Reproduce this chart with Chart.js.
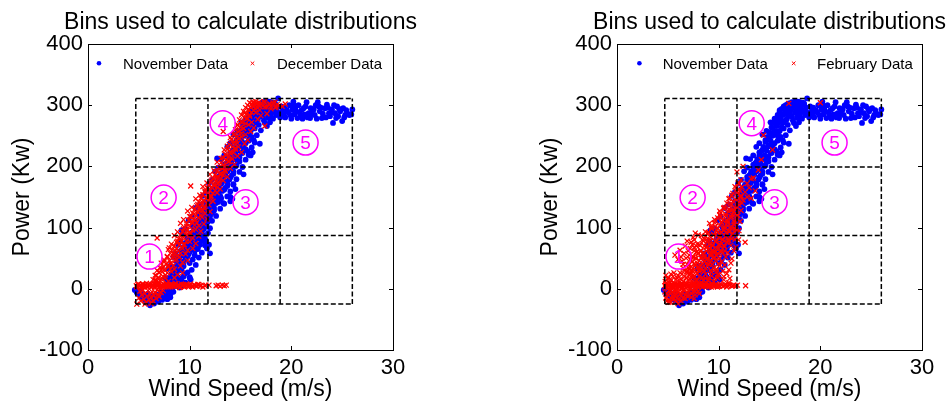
<!DOCTYPE html>
<html><head><meta charset="utf-8">
<script src="https://cdn.jsdelivr.net/npm/chart.js@4.4.1/dist/chart.umd.min.js"></script>
<style>
html,body{margin:0;padding:0;background:#fff;}
#wrap{position:relative;width:949px;height:403px;overflow:hidden;background:#fff;}
.c{position:absolute;top:0;height:403px;}
</style></head><body>
<div id="wrap">
<div class="c" style="left:0;width:474px"><canvas id="c1"></canvas></div>
<div class="c" style="left:474px;width:475px"><canvas id="c2"></canvas></div>
</div>
<script>
// ---- data ----
const chartTitle = 'Bins used to calculate distributions';
const xTitle = 'Wind Speed (m/s)';
const yTitle = 'Power (Kw)';
const xTicks = [0, 10, 20, 30];
const yTicks = [-100, 0, 100, 200, 300, 400];
const binX = [4.7, 11.8, 18.9, 26];
const binY = [-25, 87, 199, 311];
const binLabels = ['1', '2', '3', '4', '5'];
const binLabelX = [6.05, 7.44, 15.5, 13.25, 21.4];
const binLabelY = [52.6, 149, 141.6, 270.7, 239];

const novData = [
[4.6,-2],[4.8,-6],[4.9,-3],[5.0,-9],[5.1,-5],[5.2,-12],[5.3,-7],[5.4,-15],[5.5,-10],[5.6,-18],[5.7,-13],[5.8,-20],[5.9,-8],[6.0,-22],[6.1,-27],[6.2,-16],[6.3,-12],[6.4,-19],[6.5,-24],[6.6,-14],[6.7,-9],[6.8,-17],[6.9,-21],[7.0,-11],[7.1,-15],[7.2,-6],[7.3,-18],[7.4,-10],[7.5,-13],[7.6,-4],[7.7,-8],[7.8,-12],[7.9,-2],[8.0,-6],[8.1,-9],[8.2,-3],[8.3,1],[8.4,-5],[8.5,4],[8.6,5],[8.9,10],[9.2,14],[9.4,20],[9.0,2],[7.8,-17],[8.1,-14],
[7.8,2],[7.8,12],[7.9,8],[8.0,18],[8.0,0],[8.1,12],[8.2,24],[8.2,6],[8.3,16],[8.4,30],[8.4,10],[8.5,22],[8.6,36],[8.6,14],[8.7,28],[8.7,45],[8.8,20],[8.9,40],[8.9,52],[9.0,30],[9.1,46],[9.1,62],[9.2,36],[9.2,96],[9.3,55],[9.4,42],[9.4,68],[9.5,60],[9.6,48],[9.6,75],[9.7,64],[9.8,80],[9.8,54],[9.9,70],[10.0,88],[10.0,60],[10.0,18],[10.1,76],[10.2,92],[10.2,66],[10.3,82],[10.4,100],[10.4,70],[10.5,88],[10.5,55],[10.6,106],[10.6,76],[10.7,94],[10.8,112],[10.8,82],[10.8,65],[10.9,100],[11.0,118],[11.0,88],[11.0,72],[11.1,106],[11.2,124],[11.2,94],[11.2,78],[11.3,112],[11.4,130],[11.4,98],[11.4,85],[11.5,118],[11.5,82],[11.6,136],[11.6,104],[11.7,124],[11.7,66],[11.8,142],[11.8,110],[11.9,130],[11.9,72],[12.0,148],[12.0,58],[12.0,118],[12.1,136],[12.2,155],[12.2,124],[12.3,144],[12.4,162],[12.4,132],[12.5,150],[12.6,170],[12.6,140],[12.7,158],[12.7,213],[12.8,178],[12.8,146],[12.9,165],[13.0,185],[13.0,152],[13.1,172],[13.2,192],[13.2,160],[13.3,180],[13.3,140],[13.4,198],[13.5,186],[13.5,165],[13.6,205],[13.7,192],[13.7,172],[13.8,212],[13.9,198],[13.9,178],[14.0,218],[14.0,150],[14.1,205],[14.1,185],[14.2,225],[14.3,212],[14.3,170],[14.3,192],[14.4,232],[14.5,218],[14.5,200],[14.6,240],[14.7,226],[14.7,208],[14.8,248],[14.9,234],[14.9,215],[15.0,256],[15.1,242],[15.1,222],[15.2,264],[15.3,250],[15.3,230],[15.4,272],[15.5,258],[15.5,238],[15.6,278],[15.7,266],[15.7,225],[15.8,284],[15.8,250],[15.9,272],[16.0,290],[16.0,218],[16.0,258],[16.1,278],[16.2,294],[16.2,265],[16.3,243],[16.3,284],[16.4,298],[16.4,272],[16.5,288],[16.6,300],[16.6,276],[16.7,292],[16.8,283],[16.8,302],[16.9,237],[16.9,296],[17.0,288],
[8.0,7],[8.6,12],[9.1,4],[9.6,10],[10.1,15],[7.6,18],[8.3,23],[9.0,17],[9.5,24],[10.0,19],[7.9,33],[8.5,28],[9.2,32],[9.8,27],[10.2,31],[8.1,38],[8.8,43],[9.4,37],[10.0,42],[10.6,39],[8.4,52],[9.0,47],[9.7,53],[10.3,48],[10.9,51],[8.6,58],[9.3,63],[9.9,57],[10.5,62],[11.2,59],[8.9,72],[9.5,67],[10.2,73],[10.8,68],[11.5,71],[9.1,78],[9.8,83],[10.4,77],[11.0,82],[11.6,79],[9.3,92],[10.0,87],[10.7,93],[11.3,88],[11.8,91],[9.6,98],[10.3,103],[10.9,97],[11.5,102],[12.0,99],[9.9,112],[10.6,107],[11.2,113],[11.7,108],[12.2,111],[10.2,118],[10.9,123],[11.5,117],[12.0,122],[12.6,119],[10.6,132],[11.2,127],[11.8,133],[12.4,128],[13.0,131],[11.0,138],[11.6,143],[12.2,137],[12.8,142],[13.4,139],[14.0,143],[11.3,152],[11.9,147],[12.5,153],[13.1,148],[13.7,151],[14.2,147],[11.6,158],[12.2,163],[12.8,157],[13.4,162],[14.0,159],[14.5,163],[11.9,172],[12.5,167],[13.1,173],[13.7,168],[14.3,171],[12.2,178],[12.8,183],[13.4,177],[14.0,182],[14.6,179],[12.5,192],[13.1,187],[13.7,193],[14.3,188],[14.9,191],[15.3,187],[12.8,198],[13.4,203],[14.0,197],[14.6,202],[15.2,199],[13.1,212],[13.7,207],[14.3,213],[14.9,208],[15.5,211],[13.4,218],[14.0,223],[14.6,217],[15.2,222],[15.8,219],[16.2,223],[13.7,232],[14.3,227],[14.9,233],[15.5,228],[16.1,231],[14.0,238],[14.6,243],[15.2,237],[15.8,242],[16.4,239],[14.3,252],[14.9,247],[15.5,253],[16.1,248],[16.6,251],[14.7,258],[15.3,263],[15.9,257],[16.4,262],[17.0,259],[15.1,272],[15.7,267],[16.3,273],[16.8,268],[17.4,271],[15.5,278],[16.1,283],[16.7,277],[17.2,282],[17.8,279],[16.0,292],[16.6,287],[17.1,293],[17.7,288],[18.3,291],[16.6,298],[17.2,303],[17.8,297],[18.4,302],
[16.9,303],[17.0,300],[17.1,282],[17.2,295],[17.2,305],[17.3,275],[17.4,303],[17.5,288],[17.5,306],[17.6,296],[17.6,266],[17.7,280],[17.8,300],[17.8,306],[17.9,292],[17.9,272],[18.0,285],[18.0,305],[18.1,296],[18.2,278],[18.3,290],[18.3,304],[18.4,302],[18.5,284],[18.6,296],[18.7,288],[18.7,311],[18.9,280],[19.0,298],[19.1,290],[19.2,285],
[19.23,287],[19.56,292],[19.88,284],[20.2,301],[20.5,290],[20.9,282],[21.2,295],[21.5,305],[21.7,287],[21.85,279],[22.2,293],[22.3,284],[22.7,298],[22.8,290],[23.0,279],[23.3,295],[23.5,301],[23.7,287],[23.8,282],[24.0,293],[24.1,271],[24.3,287],[24.5,298],[24.6,282],[24.8,290],[25.0,274],[25.1,295],[25.3,284],[25.5,287],[25.7,284],[26.0,293],[25.9,285],
[19.0,285],[19.3,296],[19.4,280],[19.7,288],[19.8,300],[20.0,278],[20.1,293],[20.3,285],[20.4,296],[20.6,279],[20.7,300],[20.8,288],[21.0,292],[21.1,278],[21.3,285],[21.4,298],[21.6,280],[21.9,295],[22.0,286],[22.4,300],[22.5,278],[22.9,296],[23.1,286],[23.4,280],[23.6,296],[23.9,288],[24.2,300],[24.4,279],[24.7,294],[25.2,280],[25.4,292],[20.2,306],[22.6,305]
];

const decData = [
[4.75,5],[4.9,7],[5.0,4],[5.15,6],[5.3,3],[5.4,8],[5.55,5],[5.7,6],[5.8,4],[5.95,7],[6.1,5],[6.2,3],[6.35,6],[6.5,8],[6.6,4],[6.75,5],[6.9,7],[7.0,3],[7.15,6],[7.3,5],[7.4,8],[7.55,4],[7.7,6],[7.8,5],[7.95,3],[8.1,7],[8.2,5],[8.35,6],[8.5,4],[8.65,8],[8.8,5],[8.95,6],[9.1,3],[9.25,5],[9.4,7],[9.55,4],[9.7,6],[9.85,5],[10.0,5],[10.2,4],[10.4,6],[10.6,5],[10.8,7],[11.0,5],[11.5,5],[11.9,6],[12.6,5],[12.8,6],[13.0,4],[13.2,6],[13.4,5],[13.6,6],
[4.82,3],[4.97,8],[5.08,5],[5.22,2],[5.35,7],[5.48,4],[5.62,6],[5.75,9],[5.88,3],[6.02,5],[6.15,8],[6.28,4],[6.42,6],[6.55,2],[6.68,7],[6.82,5],[6.95,9],[7.08,4],[7.22,6],[7.35,3],[7.48,7],[7.62,5],[7.75,8],[7.88,4],[8.02,6],[8.15,3],[8.28,7],[8.42,5],[8.58,9],[8.72,4],[8.88,6],[9.02,2],[9.18,8],[9.32,5],[9.48,3],[9.62,7],[9.78,4],[9.92,6],[10.1,8],[10.3,3],[10.5,6],[10.7,4],[10.9,7],[11.1,5],[11.3,3],[11.6,6],
[4.8,-25],[5.0,-15],[5.1,-4],[5.2,-20],[5.3,-10],[5.4,-2],[5.5,-17],[5.6,-8],[5.7,-22],[5.8,-12],[5.9,-3],[6.0,-18],[6.1,-9],[6.2,-14],[6.3,-5],[6.4,-20],[6.5,-11],[6.6,-6],[6.7,-16],[6.8,-2],[6.9,-9],[7.0,-13],[7.1,0],[7.2,-6],[7.4,-3],[5.6,-25],[6.2,-24],[6.4,15],[6.6,22],[6.5,8],[6.7,12],
[6.6,14],[6.7,22],[6.8,8],[6.8,30],[6.9,18],[7.0,26],[7.0,10],[7.1,34],[7.2,16],[7.2,42],[7.3,28],[7.4,20],[7.4,36],[7.5,44],[7.6,30],[7.6,18],[7.7,40],[7.8,52],[7.8,26],[7.9,36],[7.9,64],[8.0,46],[8.1,58],[8.1,32],[8.2,42],[8.3,64],[8.3,50],[8.4,38],[8.5,56],[8.5,70],[8.6,46],[8.7,66],[8.7,76],[8.8,54],[8.9,82],[8.9,62],[9.0,72],[9.1,58],[9.1,88],[9.2,78],[9.3,66],[9.3,94],[9.4,84],[9.5,72],[9.5,100],[9.6,90],[9.7,78],[9.7,106],[9.8,96],[9.9,86],[9.9,112],[10.0,102],[10.1,90],[10.1,118],[10.1,168],[10.2,108],[10.3,96],[10.3,124],[10.4,114],[10.5,104],[10.5,130],[10.6,120],[10.7,108],[10.7,136],[10.8,126],[10.9,116],[10.9,142],[11.0,132],[11.1,120],[11.1,148],[11.2,138],[11.3,128],[11.3,154],[11.4,144],[11.5,134],[11.5,160],[11.6,148],[11.7,140],[11.7,165],[11.8,154],[11.9,146],[11.9,170],[12.0,160],[12.1,150],[12.1,176],[12.2,166],[12.3,156],[12.3,180],[12.4,170],[12.5,160],[12.5,186],[12.6,176],[12.7,166],[12.7,192],[12.8,182],[12.9,174],[12.9,198],[13.0,188],[13.1,180],[13.1,206],[13.2,196],[13.3,186],[13.3,257],[13.3,214],[13.4,202],[13.5,194],[13.5,220],[13.6,210],[13.7,200],[13.7,228],[13.8,216],[13.9,208],[13.9,236],[14.0,224],[14.1,214],[14.1,244],[14.2,232],[14.3,222],[14.3,252],[14.4,240],[14.5,230],[14.5,260],[14.6,248],[14.7,238],[14.7,268],[14.8,256],[14.9,246],[14.9,276],[15.0,264],[15.1,254],[15.1,284],[15.2,272],[15.3,262],[15.3,290],[15.4,280],[15.5,270],[15.5,296],[15.6,286],[15.7,278],[15.7,300],[15.8,292],[15.9,284],[15.9,304],[16.0,296],[16.1,288],[16.1,302],[16.2,298],[16.3,292],[16.3,305],[16.4,300],[16.5,294],[16.5,306],[16.6,302],[16.7,296],[16.8,304],[16.9,298],[17.0,303],[17.2,299],[17.4,305],[17.4,266],[17.6,297],[17.8,302],[18.0,298],[18.2,304],[18.4,296],[18.6,301],[18.8,299],[19.1,298],[19.4,302],[6.8,83],[11.8,165],
[6.8,13],[7.3,17],[7.9,12],[8.5,18],[7.0,27],[7.6,22],[8.2,28],[8.8,23],[9.3,26],[7.3,33],[7.9,38],[8.5,32],[9.1,37],[7.5,47],[8.1,42],[8.7,48],[9.3,43],[9.8,46],[7.8,53],[8.4,58],[9.0,52],[9.6,57],[8.0,67],[8.6,62],[9.2,68],[9.8,63],[10.3,66],[8.2,73],[8.8,78],[9.4,72],[10.0,77],[10.6,74],[8.5,87],[9.1,82],[9.7,88],[10.3,83],[10.9,86],[8.8,93],[9.4,98],[10.0,92],[10.6,97],[11.1,94],[9.1,107],[9.7,102],[10.3,108],[10.9,103],[11.4,106],[9.4,113],[10.0,118],[10.6,112],[11.2,117],[11.7,114],[9.8,127],[10.4,122],[11.0,128],[11.5,123],[12.0,126],[10.2,133],[10.8,138],[11.4,132],[11.9,137],[10.6,147],[11.2,142],[11.7,148],[12.3,143],[11.0,153],[11.5,158],[12.1,152],[12.7,157],[11.3,167],[11.9,162],[12.4,168],[13.0,163],[11.7,173],[12.2,178],[12.8,172],[13.3,177],[12.0,187],[12.6,182],[13.1,188],[13.7,183],[12.4,193],[12.9,198],[13.5,192],[14.0,197],[12.7,207],[13.3,202],[13.8,208],[14.4,203],[13.1,213],[13.6,218],[14.2,212],[14.7,217],[13.4,227],[14.0,222],[14.5,228],[15.1,223],[13.7,233],[14.3,238],[14.8,232],[15.4,237],[14.0,247],[14.6,242],[15.1,248],[15.7,243],[14.4,253],[14.9,258],[15.5,252],[16.0,257],[14.7,267],[15.3,262],[15.8,268],[16.3,263],[15.1,273],[15.6,278],[16.1,272],[16.7,277],[15.4,287],[15.9,282],[16.5,288],[17.0,283],[17.6,286],[15.8,293],[16.3,298],[16.9,292],[17.4,297],[18.0,294],[18.5,297],[16.2,305],[16.8,301],[17.3,306],[17.9,302],[18.4,305]
];

const febData = [
[4.7,5],[4.85,7],[5.0,4],[5.1,6],[5.25,3],[5.4,8],[5.5,5],[5.65,6],[5.8,4],[5.9,7],[6.05,5],[6.2,3],[6.3,6],[6.45,8],[6.6,4],[6.7,5],[6.85,7],[7.0,3],[7.1,6],[7.25,5],[7.4,8],[7.5,4],[7.65,6],[7.8,5],[7.9,3],[8.05,7],[8.2,5],[8.3,6],[8.45,4],[8.6,8],[8.75,5],[8.9,6],[9.05,3],[9.2,5],[9.35,7],[9.5,4],[9.65,6],[9.8,5],[9.95,5],[10.1,4],[10.3,6],[10.5,5],[10.7,7],[10.9,5],[11.1,6],[11.3,4],[11.5,6],[11.7,5],[12.65,5],
[4.78,8],[4.92,3],[5.05,6],[5.18,9],[5.32,4],[5.46,6],[5.58,2],[5.72,7],[5.85,5],[5.98,8],[6.12,4],[6.25,6],[6.38,3],[6.52,7],[6.64,5],[6.78,9],[6.92,4],[7.05,6],[7.18,2],[7.32,7],[7.45,5],[7.58,8],[7.72,3],[7.85,6],[7.98,4],[8.12,8],[8.25,5],[8.38,3],[8.52,7],[8.68,5],[8.82,9],[8.98,4],[9.12,6],[9.28,3],[9.42,8],[9.58,5],[9.72,7],[9.88,3],[10.02,6],[10.2,8],[10.4,4],[10.6,6],[10.8,3],[11.0,7],[11.4,5],[11.85,6],
[4.7,-5],[4.75,12],[4.8,-15],[4.85,2],[4.9,-20],[4.95,8],[5.0,-10],[5.05,18],[5.1,-3],[5.15,-18],[5.2,10],[5.25,-8],[5.3,-22],[5.35,14],[5.4,0],[5.45,-12],[5.5,20],[5.55,-6],[5.6,-16],[5.65,9],[5.7,-2],[5.75,-20],[5.8,15],[5.85,-9],[5.9,2],[5.95,-14],[6.0,22],[6.05,-4],[6.1,-18],[6.15,11],[6.2,-8],[6.25,16],[6.3,-12],[6.35,0],[6.4,24],[6.45,-6],[6.5,-15],[6.55,12],[6.6,-2],[6.65,20],[6.7,-10],[6.8,8],[6.85,28],[6.9,-5],[7.0,15],[7.05,-12],[7.1,22],[7.2,0],[7.3,30],[7.35,-8],[7.4,12],[7.5,-3],[7.6,20],[7.7,-10],[7.8,6],[8.0,-4],
[4.8,22],[4.9,-8],[5.0,16],[5.1,-22],[5.2,-2],[5.3,24],[5.4,-16],[5.5,4],[5.6,26],[5.7,-12],[5.8,-4],[5.9,18],[6.0,-24],[6.1,4],[6.2,26],[6.3,-20],[6.4,8],[6.5,-2],[6.6,30],[6.7,-16],[6.8,18],[6.9,-12],[7.0,4],[7.1,-4],[7.2,24],[7.3,-14],[7.5,10],[7.7,-4],[7.9,14],[8.1,-8],[8.3,10],[7.6,-16],
[7.0,34],[7.1,40],[7.2,26],[7.2,48],[7.3,76],[7.3,36],[7.4,44],[7.4,18],[7.5,52],[7.6,30],[7.6,62],[7.7,91],[7.7,40],[7.8,50],[7.8,70],[7.9,26],[8.0,58],[8.0,36],[8.1,46],[8.1,72],[8.2,30],[8.3,62],[8.3,50],[8.4,40],[8.4,80],[8.5,56],[8.6,70],[8.6,44],[8.7,34],[8.7,86],[8.8,62],[8.9,50],[8.9,78],[9.0,92],[9.0,40],[9.1,66],[9.2,84],[9.2,54],[9.3,100],[9.3,46],[9.4,72],[9.5,88],[9.5,60],[9.6,108],[9.6,52],[9.7,78],[9.8,96],[9.8,66],[9.9,116],[9.9,58],[10.0,84],[10.1,104],[10.1,72],[10.2,124],[10.2,62],[10.3,92],[10.4,112],[10.4,80],[10.5,132],[10.5,70],[10.6,100],[10.7,122],[10.7,86],[10.8,140],[10.8,76],[10.9,108],[11.0,130],[11.0,94],[11.1,148],[11.1,84],[11.2,118],[11.3,138],[11.3,100],[11.4,156],[11.4,90],[11.5,126],[11.6,146],[11.6,108],[11.7,165],[11.7,96],[11.8,134],[11.8,191],[11.9,155],[11.9,120],[12.0,172],[12.0,142],[12.1,160],[12.2,150],[12.2,178],[12.3,166],[12.4,145],[12.4,200],[12.6,158],[12.6,76],[12.8,172],[12.8,150],[13.0,165],[13.2,180],[13.2,148],[13.4,181],[13.6,160],[13.9,194],[14.2,211],[14.4,251],[15.3,227],[16.9,303],[20.0,304],
[8.5,14],[9.0,18],[9.5,12],[10.0,22],[10.5,15],[11.0,10],[9.8,28],[10.8,25],[5.7,55],[6.0,48],[6.2,63],[6.5,40],[6.3,52],[7.5,84],[8.0,88],[7.2,66],
[7.2,16],[7.8,13],[8.4,18],[9.0,14],[9.6,17],[6.9,27],[7.5,23],[8.1,28],[8.7,24],[9.3,27],[9.9,23],[7.1,33],[7.7,38],[8.3,32],[8.9,37],[9.5,34],[10.1,38],[7.3,47],[7.9,42],[8.5,48],[9.1,43],[9.7,46],[10.3,44],[7.4,53],[8.0,58],[8.6,52],[9.2,57],[9.8,54],[10.4,58],[7.6,67],[8.2,62],[8.8,68],[9.4,63],[10.0,66],[10.6,62],[7.9,73],[8.5,78],[9.1,72],[9.7,77],[10.3,74],[10.9,78],[8.3,87],[8.9,82],[9.5,88],[10.1,83],[10.7,86],[11.3,82],[8.7,93],[9.3,98],[9.9,92],[10.5,97],[11.1,94],[11.6,98],[9.1,107],[9.7,102],[10.3,108],[10.9,103],[11.5,106],[9.6,113],[10.2,118],[10.8,112],[11.3,117],[11.8,114],[10.1,127],[10.7,122],[11.2,128],[11.7,123],[10.6,133],[11.1,138],[11.6,132],[12.0,137],[11.0,147],[11.5,142],[11.9,148],[11.3,153],[11.8,158],[12.2,152],[11.6,167],[12.0,163],[11.9,173],
[6.4,45],[6.6,58],[6.8,50],[6.9,40],[7.0,62],[6.7,70],[6.5,34],[7.1,55],[6.9,78],[7.4,72],[7.6,80],[7.8,60],
[8.1,20],[8.7,17],[9.3,21],[9.9,18],[10.5,20],[11.1,17],[7.4,30],[8.0,31],[8.6,29],[9.2,30],[9.8,32],[10.4,29],[11.0,31],[7.6,41],[8.2,39],[8.8,42],[9.4,40],[10.0,41],[10.6,39],[11.2,42],[7.7,50],[8.3,51],[8.9,49],[9.5,51],[10.1,50],[10.7,52],[11.3,49],[7.9,61],[8.5,59],[9.1,62],[9.7,60],[10.3,61],[10.9,59],[11.5,62],[8.2,71],[8.8,69],[9.4,70],[10.0,72],[10.6,69],[11.2,71],[11.7,68],[8.6,81],[9.2,79],[9.8,80],[10.4,81],[11.0,79],[11.6,81],[8.9,91],[9.5,89],[10.1,90],[10.7,92],[11.3,89],[11.8,91],[9.3,101],[9.9,99],[10.5,101],[11.1,100],[11.7,102],[9.7,111],[10.3,109],[10.9,111],[11.5,110],[10.1,121],[10.7,119],[11.3,121],[11.8,119],[10.5,131],[11.1,129],[11.7,131],[12.0,95],[12.1,110],[12.2,128],[11.95,80],[12.3,140]
];

// ---- rendering ----
const FONT = '"Liberation Sans", Arial, Helvetica, sans-serif';
Chart.defaults.font.family = FONT;
Chart.defaults.color = '#000';

const toXY = arr => arr.map(p => ({x: p[0], y: p[1]}));

function drawCross(ctx, x, y, r) {
  ctx.beginPath();
  ctx.moveTo(x - r, y - r); ctx.lineTo(x + r, y + r);
  ctx.moveTo(x - r, y + r); ctx.lineTo(x + r, y - r);
  ctx.stroke();
}

const decor = {
  id: 'decor',
  afterDatasetsDraw(chart, args, o) {
    const {ctx, scales: {x, y}} = chart;
    ctx.save();
    ctx.strokeStyle = '#ff00ff';
    ctx.fillStyle = '#ff00ff';
    ctx.lineWidth = 1.5;
    ctx.font = '19px ' + FONT;
    ctx.textAlign = 'center';
    ctx.textBaseline = 'alphabetic';
    binLabels.forEach((t, i) => {
      const px = x.getPixelForValue(binLabelX[i]);
      const py = y.getPixelForValue(binLabelY[i]);
      ctx.beginPath();
      ctx.arc(px, py, 12.5, 0, Math.PI * 2);
      ctx.stroke();
      ctx.fillText(t, px, py + 6.8);
    });
    ctx.restore();
  },
  afterDraw(chart, args, o) {
    const {ctx, chartArea: a, scales: {x, y}} = chart;
    ctx.save();
    ctx.strokeStyle = '#000';
    ctx.lineWidth = 1;
    ctx.strokeRect(a.left + 0.5, a.top + 0.5, a.right - a.left, a.bottom - a.top);
    ctx.beginPath();
    const tl = 4;
    xTicks.forEach(v => {
      const px = Math.round(x.getPixelForValue(v)) + 0.5;
      ctx.moveTo(px, a.bottom); ctx.lineTo(px, a.bottom - tl);
      ctx.moveTo(px, a.top); ctx.lineTo(px, a.top + tl);
    });
    yTicks.forEach(v => {
      const py = Math.round(y.getPixelForValue(v)) + 0.5;
      ctx.moveTo(a.left, py); ctx.lineTo(a.left + tl, py);
      ctx.moveTo(a.right, py); ctx.lineTo(a.right - tl, py);
    });
    ctx.stroke();
    // title
    ctx.fillStyle = '#000';
    ctx.font = '23px ' + FONT;
    ctx.textAlign = 'center';
    ctx.textBaseline = 'alphabetic';
    ctx.fillText(chartTitle, (a.left + a.right) / 2, 28.5);
    // legend
    const L = o.legend;
    ctx.font = '15px ' + FONT;
    ctx.textAlign = 'left';
    ctx.fillStyle = '#0000ff';
    ctx.beginPath(); ctx.arc(a.left + L.dot, 63.3, 2.3, 0, Math.PI * 2); ctx.fill();
    ctx.strokeStyle = '#ff0000'; ctx.lineWidth = 1;
    drawCross(ctx, a.left + L.cross, 63.3, 1.8);
    ctx.fillStyle = '#000';
    ctx.fillText('November Data', a.left + L.t1, 69.3);
    ctx.fillText(o.redLabel, a.left + L.t2, 69.3);
    ctx.restore();
  }
};

function makeChart(id, redData, redLabel, yAxisWidth, rightPad, yTitlePad, legendPos) {
  const datasets = [];
  const dashed = pts => ({data: pts, showLine: true, borderColor: '#000', borderWidth: 1.5,
    borderDash: [5, 2.5], pointRadius: 0, fill: false, order: 0});
  binX.forEach(v => datasets.push(dashed([{x: v, y: binY[0]}, {x: v, y: binY[binY.length - 1]}])));
  binY.forEach(v => datasets.push(dashed([{x: binX[0], y: v}, {x: binX[binX.length - 1], y: v}])));
  datasets.push({label: redLabel, data: toXY(redData), pointStyle: 'crossRot', pointRadius: 3.5,
    borderColor: '#ff0000', backgroundColor: '#ff0000', borderWidth: 1.25, order: 1});
  datasets.push({label: 'November Data', data: toXY(novData), pointStyle: 'circle', pointRadius: 2.9,
    backgroundColor: '#0000ff', borderColor: '#0000ff', borderWidth: 0, order: 2});

  new Chart(document.getElementById(id), {
    type: 'scatter',
    data: {datasets},
    options: {
      responsive: true, maintainAspectRatio: false, animation: false, events: [],
      layout: {padding: {left: 0, right: rightPad, top: 44, bottom: 0}},
      plugins: {
        legend: {display: false}, tooltip: {enabled: false}, title: {display: false},
        decor: {legend: legendPos, redLabel}
      },
      scales: {
        x: {
          type: 'linear', min: 0, max: 30,
          afterBuildTicks: s => { s.ticks = xTicks.map(v => ({value: v})); },
          ticks: {color: '#000', font: {size: 22}, padding: 5, maxRotation: 0, autoSkip: false},
          grid: {display: false, drawTicks: false}, border: {display: false},
          title: {display: true, text: xTitle, color: '#000', font: {size: 23}, padding: {top: 0, bottom: 0}},
          afterFit: s => { s.height = 53; }
        },
        y: {
          type: 'linear', min: -100, max: 400,
          afterBuildTicks: s => { s.ticks = yTicks.map(v => ({value: v})); },
          ticks: {color: '#000', font: {size: 22}, padding: 5, autoSkip: false},
          grid: {display: false, drawTicks: false}, border: {display: false},
          title: {display: true, text: yTitle, color: '#000', font: {size: 23}, padding: {top: yTitlePad, bottom: 0}},
          afterFit: s => { s.width = yAxisWidth; }
        }
      }
    },
    plugins: [decor]
  });
}

makeChart('c1', decData, 'December Data', 88, 81, 9, {dot: 11, t1: 35, cross: 164.5, t2: 189});
makeChart('c2', febData, 'February Data', 143, 27, 63, {dot: 22.4, t1: 45.7, cross: 176.7, t2: 200});
</script>
</body></html>
